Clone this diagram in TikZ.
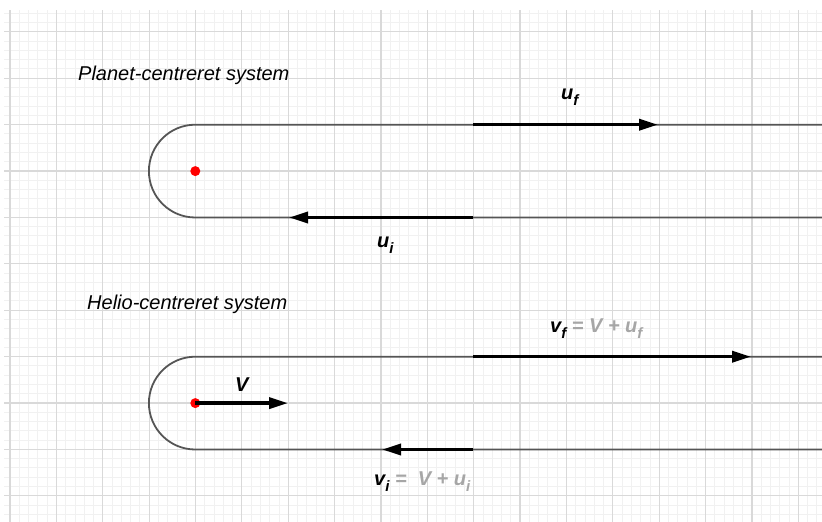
\documentclass[tikz,border=0pt]{standalone}
\usepackage{fontspec}
\setmainfont{Liberation Sans}
\usetikzlibrary{arrows.meta}
\definecolor{gmajor}{HTML}{D9D9D9}
\definecolor{gminor}{HTML}{F1F1F1}
\definecolor{pathc}{HTML}{555555}
\definecolor{lgray}{HTML}{A6A6A6}
\newcommand{\lsub}[1]{\raisebox{-6pt}{\fontsize{15}{15}\selectfont #1}}
\tikzset{
  minorline/.style={draw=gminor, line width=0.8pt},
  majorline/.style={draw=gmajor, line width=1.2pt},
  orbit/.style={draw=pathc, line width=1.8pt},
  vec/.style={draw=black, line width=3.5pt, -{Triangle[length=19pt,width=11pt]}},
  title/.style={anchor=base west, inner sep=0pt, font=\fontsize{20}{24}\selectfont\itshape},
  vlabel/.style={anchor=base west, inner sep=0pt, font=\fontsize{20}{24}\selectfont\bfseries\itshape},
  planet/.style={circle, fill=red, inner sep=0pt, minimum size=10pt}
}
\begin{document}
\begin{tikzpicture}[x=1pt,y=-1pt]
\useasboundingbox (0,0) rectangle (822,522);
\fill[white] (0,0) rectangle (822,522);
% grid
\begin{scope}
\clip (4,10) rectangle (822,522);
\foreach \i in {-1,...,90} \draw[minorline] ({10+\i*9.274},10) -- ++(0,512);
\foreach \j in {-3,...,53} \draw[minorline] (4,{31.7+\j*9.28}) -- ++(818,0);
\foreach \i in {0,...,18} \draw[majorline] ({10+\i*46.37},10) -- ++(0,512);
\foreach \j in {0,...,10} \draw[majorline] (4,{31.7+\j*46.4}) -- ++(818,0);
\end{scope}
% planet-centred system
\coordinate (t1r) at (822,124.7);
\coordinate (t1l) at (195.3,124.7);
\coordinate (b1r) at (822,217.5);
\coordinate (b1l) at (195.3,217.5);
\draw[orbit] (t1r) -- (t1l) arc[start angle=270, end angle=90, radius=46.4] -- (b1r);
\coordinate (uf0) at (473,124.7);
\coordinate (uf1) at (658,124.7);
\coordinate (ui0) at (473,217.5);
\coordinate (ui1) at (289,217.5);
\draw[vec] (uf0) -- (uf1);
\draw[vec] (ui0) -- (ui1);
\node[planet] (p1) at (195.3,171.1) {};
\node[title] (tit1) at (78,80) {Planet-centreret system};
\node[vlabel] (luf) at (561,99) {u\lsub{f}};
\node[vlabel] (lui) at (377,247) {u\lsub{i}};
% helio-centred system
\coordinate (t2r) at (822,356.7);
\coordinate (t2l) at (195.3,356.7);
\coordinate (b2r) at (822,449.5);
\coordinate (b2l) at (195.3,449.5);
\draw[orbit] (t2r) -- (t2l) arc[start angle=270, end angle=90, radius=46.4] -- (b2r);
\coordinate (vf0) at (473,356.7);
\coordinate (vf1) at (751,356.7);
\coordinate (vi0) at (473,449.5);
\coordinate (vi1) at (382,449.5);
\draw[vec] (vf0) -- (vf1);
\draw[vec] (vi0) -- (vi1);
\node[planet] (p2) at (195.3,403.1) {};
\coordinate (V1) at (288,403.1);
\draw[vec] (p2.center) -- (V1);
\node[title] (tit2) at (87,309) {Helio-centreret system};
\node[vlabel] (lvf) at (550,332) {v\lsub{f} \textcolor{lgray}{= V + u\lsub{f}}};
\node[vlabel] (lvi) at (374,485) {v\lsub{i} \textcolor{lgray}{=\ \ V + u\lsub{i}}};
\node[vlabel] (lV) at (235,391) {V};
\end{tikzpicture}
\end{document}
